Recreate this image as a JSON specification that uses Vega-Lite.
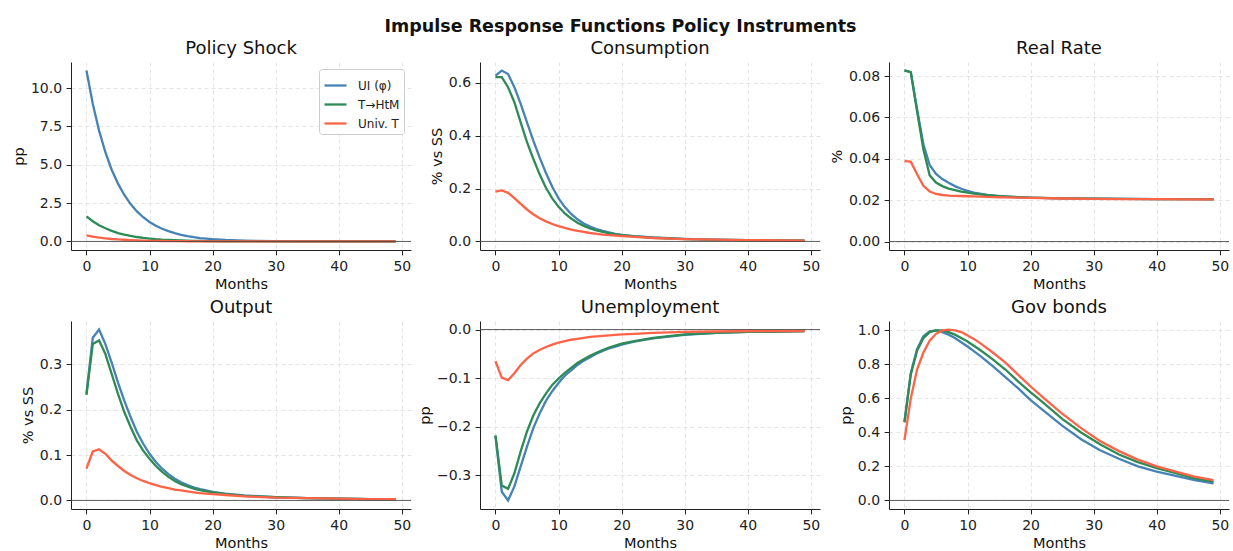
{
"$schema": "https://vega.github.io/schema/vega-lite/v6.json",
"padding": {"left": 11, "top": 17, "right": 5, "bottom": 5},
"title": {"text": "Impulse Response Functions Policy Instruments", "fontSize": 17.5, "fontWeight": "bold", "anchor": "middle", "offset": 5},
"data": {"values": [
{"p":"PS","m":0,"UI":11.15,"HtM":1.64,"Univ":0.39},
{"p":"PS","m":1,"UI":8.98,"HtM":1.32,"Univ":0.31},
{"p":"PS","m":2,"UI":7.23,"HtM":1.06,"Univ":0.25},
{"p":"PS","m":3,"UI":5.82,"HtM":0.86,"Univ":0.20},
{"p":"PS","m":4,"UI":4.68,"HtM":0.69,"Univ":0.16},
{"p":"PS","m":5,"UI":3.77,"HtM":0.55,"Univ":0.13},
{"p":"PS","m":6,"UI":3.03,"HtM":0.45,"Univ":0.11},
{"p":"PS","m":7,"UI":2.44,"HtM":0.36,"Univ":0.085},
{"p":"PS","m":8,"UI":1.96,"HtM":0.29,"Univ":0.069},
{"p":"PS","m":9,"UI":1.58,"HtM":0.23,"Univ":0.055},
{"p":"PS","m":10,"UI":1.27,"HtM":0.19,"Univ":0.044},
{"p":"PS","m":11,"UI":1.03,"HtM":0.15,"Univ":0.036},
{"p":"PS","m":12,"UI":0.83,"HtM":0.12,"Univ":0.029},
{"p":"PS","m":13,"UI":0.67,"HtM":0.10,"Univ":0.023},
{"p":"PS","m":14,"UI":0.54,"HtM":0.08,"Univ":0.019},
{"p":"PS","m":15,"UI":0.43,"HtM":0.064,"Univ":0.015},
{"p":"PS","m":16,"UI":0.35,"HtM":0.051,"Univ":0.012},
{"p":"PS","m":17,"UI":0.28,"HtM":0.041,"Univ":0.010},
{"p":"PS","m":18,"UI":0.22,"HtM":0.033,"Univ":0.008},
{"p":"PS","m":19,"UI":0.18,"HtM":0.026,"Univ":0.006},
{"p":"PS","m":20,"UI":0.145,"HtM":0.021,"Univ":0.005},
{"p":"PS","m":22,"UI":0.095,"HtM":0.014,"Univ":0.003},
{"p":"PS","m":25,"UI":0.049,"HtM":0.007,"Univ":0.002},
{"p":"PS","m":30,"UI":0.017,"HtM":0.0025,"Univ":0.001},
{"p":"PS","m":35,"UI":0.006,"HtM":0.001,"Univ":0.0},
{"p":"PS","m":40,"UI":0.002,"HtM":0.0003,"Univ":0.0},
{"p":"PS","m":45,"UI":0.001,"HtM":0.0001,"Univ":0.0},
{"p":"PS","m":49,"UI":0.0005,"HtM":0.0,"Univ":0.0},
{"p":"C","m":0,"UI":0.628,"HtM":0.622,"Univ":0.189},
{"p":"C","m":1,"UI":0.647,"HtM":0.622,"Univ":0.193},
{"p":"C","m":2,"UI":0.634,"HtM":0.584,"Univ":0.184},
{"p":"C","m":3,"UI":0.584,"HtM":0.527,"Univ":0.164},
{"p":"C","m":4,"UI":0.521,"HtM":0.451,"Univ":0.142},
{"p":"C","m":5,"UI":0.451,"HtM":0.376,"Univ":0.121},
{"p":"C","m":6,"UI":0.382,"HtM":0.313,"Univ":0.103},
{"p":"C","m":7,"UI":0.318,"HtM":0.254,"Univ":0.088},
{"p":"C","m":8,"UI":0.259,"HtM":0.203,"Univ":0.076},
{"p":"C","m":9,"UI":0.207,"HtM":0.163,"Univ":0.066},
{"p":"C","m":10,"UI":0.163,"HtM":0.131,"Univ":0.058},
{"p":"C","m":11,"UI":0.130,"HtM":0.106,"Univ":0.051},
{"p":"C","m":12,"UI":0.104,"HtM":0.087,"Univ":0.045},
{"p":"C","m":13,"UI":0.084,"HtM":0.071,"Univ":0.040},
{"p":"C","m":14,"UI":0.068,"HtM":0.059,"Univ":0.036},
{"p":"C","m":15,"UI":0.056,"HtM":0.049,"Univ":0.032},
{"p":"C","m":16,"UI":0.047,"HtM":0.042,"Univ":0.029},
{"p":"C","m":17,"UI":0.040,"HtM":0.036,"Univ":0.026},
{"p":"C","m":18,"UI":0.034,"HtM":0.031,"Univ":0.024},
{"p":"C","m":19,"UI":0.029,"HtM":0.027,"Univ":0.022},
{"p":"C","m":20,"UI":0.025,"HtM":0.024,"Univ":0.020},
{"p":"C","m":22,"UI":0.020,"HtM":0.019,"Univ":0.017},
{"p":"C","m":25,"UI":0.015,"HtM":0.014,"Univ":0.013},
{"p":"C","m":30,"UI":0.010,"HtM":0.009,"Univ":0.009},
{"p":"C","m":35,"UI":0.007,"HtM":0.006,"Univ":0.007},
{"p":"C","m":40,"UI":0.005,"HtM":0.005,"Univ":0.005},
{"p":"C","m":45,"UI":0.004,"HtM":0.004,"Univ":0.004},
{"p":"C","m":49,"UI":0.003,"HtM":0.003,"Univ":0.003},
{"p":"R","m":0,"UI":0.0827,"HtM":0.0827,"Univ":0.0389},
{"p":"R","m":1,"UI":0.0819,"HtM":0.0819,"Univ":0.0386},
{"p":"R","m":2,"UI":0.0640,"HtM":0.0630,"Univ":0.0325},
{"p":"R","m":3,"UI":0.0470,"HtM":0.0446,"Univ":0.0269},
{"p":"R","m":4,"UI":0.0370,"HtM":0.0320,"Univ":0.0242},
{"p":"R","m":5,"UI":0.0327,"HtM":0.0285,"Univ":0.0230},
{"p":"R","m":6,"UI":0.0302,"HtM":0.0268,"Univ":0.0225},
{"p":"R","m":7,"UI":0.0284,"HtM":0.0256,"Univ":0.0222},
{"p":"R","m":8,"UI":0.0268,"HtM":0.0248,"Univ":0.0221},
{"p":"R","m":9,"UI":0.0255,"HtM":0.0241,"Univ":0.0220},
{"p":"R","m":10,"UI":0.0245,"HtM":0.0236,"Univ":0.0219},
{"p":"R","m":11,"UI":0.0237,"HtM":0.0232,"Univ":0.0218},
{"p":"R","m":12,"UI":0.0231,"HtM":0.0228,"Univ":0.0217},
{"p":"R","m":13,"UI":0.0226,"HtM":0.0225,"Univ":0.0216},
{"p":"R","m":14,"UI":0.0223,"HtM":0.0222,"Univ":0.0215},
{"p":"R","m":15,"UI":0.0220,"HtM":0.0219,"Univ":0.0214},
{"p":"R","m":16,"UI":0.0218,"HtM":0.0217,"Univ":0.0213},
{"p":"R","m":18,"UI":0.0215,"HtM":0.0214,"Univ":0.0212},
{"p":"R","m":20,"UI":0.0212,"HtM":0.0212,"Univ":0.0211},
{"p":"R","m":25,"UI":0.0209,"HtM":0.0209,"Univ":0.0208},
{"p":"R","m":30,"UI":0.0207,"HtM":0.0207,"Univ":0.0206},
{"p":"R","m":35,"UI":0.0206,"HtM":0.0206,"Univ":0.0205},
{"p":"R","m":40,"UI":0.0205,"HtM":0.0205,"Univ":0.0205},
{"p":"R","m":45,"UI":0.0205,"HtM":0.0205,"Univ":0.0204},
{"p":"R","m":49,"UI":0.0205,"HtM":0.0204,"Univ":0.0204},
{"p":"O","m":0,"UI":0.235,"HtM":0.233,"Univ":0.070},
{"p":"O","m":1,"UI":0.359,"HtM":0.345,"Univ":0.108},
{"p":"O","m":2,"UI":0.377,"HtM":0.353,"Univ":0.113},
{"p":"O","m":3,"UI":0.345,"HtM":0.323,"Univ":0.103},
{"p":"O","m":4,"UI":0.304,"HtM":0.279,"Univ":0.088},
{"p":"O","m":5,"UI":0.260,"HtM":0.235,"Univ":0.076},
{"p":"O","m":6,"UI":0.220,"HtM":0.195,"Univ":0.065},
{"p":"O","m":7,"UI":0.184,"HtM":0.162,"Univ":0.056},
{"p":"O","m":8,"UI":0.151,"HtM":0.132,"Univ":0.049},
{"p":"O","m":9,"UI":0.125,"HtM":0.110,"Univ":0.043},
{"p":"O","m":10,"UI":0.103,"HtM":0.092,"Univ":0.038},
{"p":"O","m":11,"UI":0.085,"HtM":0.076,"Univ":0.034},
{"p":"O","m":12,"UI":0.070,"HtM":0.063,"Univ":0.030},
{"p":"O","m":13,"UI":0.058,"HtM":0.052,"Univ":0.027},
{"p":"O","m":14,"UI":0.048,"HtM":0.043,"Univ":0.024},
{"p":"O","m":15,"UI":0.040,"HtM":0.036,"Univ":0.022},
{"p":"O","m":16,"UI":0.034,"HtM":0.031,"Univ":0.020},
{"p":"O","m":17,"UI":0.029,"HtM":0.026,"Univ":0.018},
{"p":"O","m":18,"UI":0.025,"HtM":0.023,"Univ":0.016},
{"p":"O","m":19,"UI":0.022,"HtM":0.020,"Univ":0.015},
{"p":"O","m":20,"UI":0.019,"HtM":0.018,"Univ":0.014},
{"p":"O","m":22,"UI":0.015,"HtM":0.014,"Univ":0.012},
{"p":"O","m":25,"UI":0.011,"HtM":0.010,"Univ":0.009},
{"p":"O","m":30,"UI":0.007,"HtM":0.007,"Univ":0.006},
{"p":"O","m":35,"UI":0.005,"HtM":0.005,"Univ":0.005},
{"p":"O","m":40,"UI":0.004,"HtM":0.004,"Univ":0.004},
{"p":"O","m":45,"UI":0.003,"HtM":0.003,"Univ":0.003},
{"p":"O","m":49,"UI":0.003,"HtM":0.003,"Univ":0.003},
{"p":"U","m":0,"UI":-0.219,"HtM":-0.218,"Univ":-0.065},
{"p":"U","m":1,"UI":-0.334,"HtM":-0.321,"Univ":-0.099},
{"p":"U","m":2,"UI":-0.352,"HtM":-0.328,"Univ":-0.104},
{"p":"U","m":3,"UI":-0.323,"HtM":-0.296,"Univ":-0.090},
{"p":"U","m":4,"UI":-0.282,"HtM":-0.251,"Univ":-0.073},
{"p":"U","m":5,"UI":-0.241,"HtM":-0.210,"Univ":-0.060},
{"p":"U","m":6,"UI":-0.203,"HtM":-0.177,"Univ":-0.049},
{"p":"U","m":7,"UI":-0.173,"HtM":-0.152,"Univ":-0.042},
{"p":"U","m":8,"UI":-0.147,"HtM":-0.132,"Univ":-0.036},
{"p":"U","m":9,"UI":-0.127,"HtM":-0.114,"Univ":-0.031},
{"p":"U","m":10,"UI":-0.110,"HtM":-0.101,"Univ":-0.027},
{"p":"U","m":11,"UI":-0.095,"HtM":-0.089,"Univ":-0.024},
{"p":"U","m":12,"UI":-0.084,"HtM":-0.079,"Univ":-0.021},
{"p":"U","m":13,"UI":-0.073,"HtM":-0.069,"Univ":-0.019},
{"p":"U","m":14,"UI":-0.064,"HtM":-0.061,"Univ":-0.017},
{"p":"U","m":15,"UI":-0.057,"HtM":-0.054,"Univ":-0.015},
{"p":"U","m":16,"UI":-0.050,"HtM":-0.048,"Univ":-0.014},
{"p":"U","m":17,"UI":-0.044,"HtM":-0.042,"Univ":-0.013},
{"p":"U","m":18,"UI":-0.039,"HtM":-0.037,"Univ":-0.012},
{"p":"U","m":19,"UI":-0.035,"HtM":-0.033,"Univ":-0.011},
{"p":"U","m":20,"UI":-0.031,"HtM":-0.029,"Univ":-0.010},
{"p":"U","m":22,"UI":-0.025,"HtM":-0.024,"Univ":-0.009},
{"p":"U","m":25,"UI":-0.018,"HtM":-0.017,"Univ":-0.007},
{"p":"U","m":30,"UI":-0.011,"HtM":-0.010,"Univ":-0.005},
{"p":"U","m":35,"UI":-0.007,"HtM":-0.007,"Univ":-0.004},
{"p":"U","m":40,"UI":-0.005,"HtM":-0.005,"Univ":-0.003},
{"p":"U","m":45,"UI":-0.004,"HtM":-0.004,"Univ":-0.003},
{"p":"U","m":49,"UI":-0.003,"HtM":-0.003,"Univ":-0.003},
{"p":"G","m":0,"UI":0.46,"HtM":0.46,"Univ":0.355},
{"p":"G","m":1,"UI":0.75,"HtM":0.74,"Univ":0.60},
{"p":"G","m":2,"UI":0.89,"HtM":0.88,"Univ":0.77},
{"p":"G","m":3,"UI":0.965,"HtM":0.955,"Univ":0.87},
{"p":"G","m":4,"UI":0.995,"HtM":0.99,"Univ":0.94},
{"p":"G","m":5,"UI":1.0,"HtM":1.0,"Univ":0.98},
{"p":"G","m":6,"UI":0.99,"HtM":1.0,"Univ":1.0},
{"p":"G","m":7,"UI":0.975,"HtM":0.99,"Univ":1.005},
{"p":"G","m":8,"UI":0.955,"HtM":0.975,"Univ":1.0},
{"p":"G","m":9,"UI":0.93,"HtM":0.955,"Univ":0.99},
{"p":"G","m":10,"UI":0.905,"HtM":0.935,"Univ":0.97},
{"p":"G","m":11,"UI":0.878,"HtM":0.91,"Univ":0.95},
{"p":"G","m":12,"UI":0.85,"HtM":0.885,"Univ":0.925},
{"p":"G","m":14,"UI":0.79,"HtM":0.83,"Univ":0.87},
{"p":"G","m":16,"UI":0.725,"HtM":0.77,"Univ":0.81},
{"p":"G","m":18,"UI":0.66,"HtM":0.70,"Univ":0.74},
{"p":"G","m":20,"UI":0.59,"HtM":0.635,"Univ":0.67},
{"p":"G","m":22,"UI":0.53,"HtM":0.575,"Univ":0.605},
{"p":"G","m":25,"UI":0.44,"HtM":0.48,"Univ":0.51},
{"p":"G","m":28,"UI":0.36,"HtM":0.40,"Univ":0.425},
{"p":"G","m":31,"UI":0.295,"HtM":0.33,"Univ":0.35},
{"p":"G","m":34,"UI":0.245,"HtM":0.27,"Univ":0.29},
{"p":"G","m":37,"UI":0.20,"HtM":0.225,"Univ":0.24},
{"p":"G","m":40,"UI":0.17,"HtM":0.19,"Univ":0.20},
{"p":"G","m":43,"UI":0.145,"HtM":0.16,"Univ":0.17},
{"p":"G","m":46,"UI":0.12,"HtM":0.13,"Univ":0.14},
{"p":"G","m":49,"UI":0.10,"HtM":0.11,"Univ":0.12}
]},
"columns": 3,
"spacing": {"column": 69, "row": 71},
"bounds": "flush",
"resolve": {"legend": {"color": "independent"}},
"concat": [
{"title": "Policy Shock", "width": 340, "height": 188,
 "transform": [{"filter": "datum.p == 'PS'"}, {"fold": ["UI", "HtM", "Univ"], "as": ["s", "v"]}],
 "layer": [
  {"mark": {"type": "line", "strokeWidth": 2.3}, "encoding": {
   "x": {"field": "m", "type": "quantitative", "scale": {"domain": [-2.45, 51.45], "nice": false, "zero": false}, "axis": {"values": [0, 10, 20, 30, 40, 50], "tickCount": 10, "title": "Months"}},
   "y": {"field": "v", "type": "quantitative", "scale": {"domain": [-0.5575, 11.7075], "nice": false, "zero": false}, "axis": {"values": [0, 2.5, 5, 7.5, 10], "tickCount": 10, "format": ".1f", "title": "pp"}},
   "color": {"field": "s", "type": "nominal", "scale": {"domain": ["UI", "HtM", "Univ"], "range": ["#4682B4", "#2E8B57", "#FF6347"]},
     "legend": {"orient": "top-right", "offset": 7, "title": null, "symbolType": "stroke", "symbolStrokeWidth": 2.3, "symbolSize": 484, "labelFontSize": 12, "rowPadding": -5, "padding": 4, "fillColor": "white", "strokeColor": "#cccccc", "cornerRadius": 3, "labelOffset": 10, "labelColor": "#222",
       "labelExpr": "datum.label == 'UI' ? 'UI (φ)' : datum.label == 'HtM' ? 'T→HtM' : 'Univ. T'"}}
  }},
  {"transform": [{"filter": "datum.m == 0 && datum.s == 'UI'"}], "mark": {"type": "rule", "color": "#444", "strokeWidth": 1, "opacity": 0.85}, "encoding": {"y": {"datum": 0}}}
 ]},
{"title": "Consumption", "width": 340, "height": 188,
 "transform": [{"filter": "datum.p == 'C'"}, {"fold": ["UI", "HtM", "Univ"], "as": ["s", "v"]}],
 "layer": [
  {"mark": {"type": "line", "strokeWidth": 2.3}, "encoding": {
   "x": {"field": "m", "type": "quantitative", "scale": {"domain": [-2.45, 51.45], "nice": false, "zero": false}, "axis": {"values": [0, 10, 20, 30, 40, 50], "tickCount": 10, "title": "Months"}},
   "y": {"field": "v", "type": "quantitative", "scale": {"domain": [-0.0324, 0.6794], "nice": false, "zero": false}, "axis": {"values": [0, 0.2, 0.4, 0.6], "tickCount": 10, "format": ".1f", "title": "% vs SS"}},
   "color": {"field": "s", "type": "nominal", "scale": {"domain": ["UI", "HtM", "Univ"], "range": ["#4682B4", "#2E8B57", "#FF6347"]}, "legend": null}
  }},
  {"transform": [{"filter": "datum.m == 0 && datum.s == 'UI'"}], "mark": {"type": "rule", "color": "#444", "strokeWidth": 1, "opacity": 0.85}, "encoding": {"y": {"datum": 0}}}
 ]},
{"title": "Real Rate", "width": 340, "height": 188,
 "transform": [{"filter": "datum.p == 'R'"}, {"fold": ["UI", "HtM", "Univ"], "as": ["s", "v"]}],
 "layer": [
  {"mark": {"type": "line", "strokeWidth": 2.3}, "encoding": {
   "x": {"field": "m", "type": "quantitative", "scale": {"domain": [-2.45, 51.45], "nice": false, "zero": false}, "axis": {"values": [0, 10, 20, 30, 40, 50], "tickCount": 10, "title": "Months"}},
   "y": {"field": "v", "type": "quantitative", "scale": {"domain": [-0.0041, 0.0868], "nice": false, "zero": false}, "axis": {"values": [0, 0.02, 0.04, 0.06, 0.08], "tickCount": 10, "format": ".2f", "title": "%"}},
   "color": {"field": "s", "type": "nominal", "scale": {"domain": ["UI", "HtM", "Univ"], "range": ["#4682B4", "#2E8B57", "#FF6347"]}, "legend": null}
  }},
  {"transform": [{"filter": "datum.m == 0 && datum.s == 'UI'"}], "mark": {"type": "rule", "color": "#444", "strokeWidth": 1, "opacity": 0.85}, "encoding": {"y": {"datum": 0}}}
 ]},
{"title": "Output", "width": 340, "height": 188,
 "transform": [{"filter": "datum.p == 'O'"}, {"fold": ["UI", "HtM", "Univ"], "as": ["s", "v"]}],
 "layer": [
  {"mark": {"type": "line", "strokeWidth": 2.3}, "encoding": {
   "x": {"field": "m", "type": "quantitative", "scale": {"domain": [-2.45, 51.45], "nice": false, "zero": false}, "axis": {"values": [0, 10, 20, 30, 40, 50], "tickCount": 10, "title": "Months"}},
   "y": {"field": "v", "type": "quantitative", "scale": {"domain": [-0.0189, 0.3959], "nice": false, "zero": false}, "axis": {"values": [0, 0.1, 0.2, 0.3], "tickCount": 10, "format": ".1f", "title": "% vs SS"}},
   "color": {"field": "s", "type": "nominal", "scale": {"domain": ["UI", "HtM", "Univ"], "range": ["#4682B4", "#2E8B57", "#FF6347"]}, "legend": null}
  }},
  {"transform": [{"filter": "datum.m == 0 && datum.s == 'UI'"}], "mark": {"type": "rule", "color": "#444", "strokeWidth": 1, "opacity": 0.85}, "encoding": {"y": {"datum": 0}}}
 ]},
{"title": "Unemployment", "width": 340, "height": 188,
 "transform": [{"filter": "datum.p == 'U'"}, {"fold": ["UI", "HtM", "Univ"], "as": ["s", "v"]}],
 "layer": [
  {"mark": {"type": "line", "strokeWidth": 2.3}, "encoding": {
   "x": {"field": "m", "type": "quantitative", "scale": {"domain": [-2.45, 51.45], "nice": false, "zero": false}, "axis": {"values": [0, 10, 20, 30, 40, 50], "tickCount": 10, "title": "Months"}},
   "y": {"field": "v", "type": "quantitative", "scale": {"domain": [-0.3696, 0.0176], "nice": false, "zero": false}, "axis": {"values": [-0.3, -0.2, -0.1, 0], "tickCount": 10, "format": ".1f", "title": "pp"}},
   "color": {"field": "s", "type": "nominal", "scale": {"domain": ["UI", "HtM", "Univ"], "range": ["#4682B4", "#2E8B57", "#FF6347"]}, "legend": null}
  }},
  {"transform": [{"filter": "datum.m == 0 && datum.s == 'UI'"}], "mark": {"type": "rule", "color": "#444", "strokeWidth": 1, "opacity": 0.85}, "encoding": {"y": {"datum": 0}}}
 ]},
{"title": "Gov bonds", "width": 340, "height": 188,
 "transform": [{"filter": "datum.p == 'G'"}, {"fold": ["UI", "HtM", "Univ"], "as": ["s", "v"]}],
 "layer": [
  {"mark": {"type": "line", "strokeWidth": 2.3}, "encoding": {
   "x": {"field": "m", "type": "quantitative", "scale": {"domain": [-2.45, 51.45], "nice": false, "zero": false}, "axis": {"values": [0, 10, 20, 30, 40, 50], "tickCount": 10, "title": "Months"}},
   "y": {"field": "v", "type": "quantitative", "scale": {"domain": [-0.0503, 1.0553], "nice": false, "zero": false}, "axis": {"values": [0, 0.2, 0.4, 0.6, 0.8, 1.0], "tickCount": 10, "format": ".1f", "title": "pp"}},
   "color": {"field": "s", "type": "nominal", "scale": {"domain": ["UI", "HtM", "Univ"], "range": ["#4682B4", "#2E8B57", "#FF6347"]}, "legend": null}
  }},
  {"transform": [{"filter": "datum.m == 0 && datum.s == 'UI'"}], "mark": {"type": "rule", "color": "#444", "strokeWidth": 1, "opacity": 0.85}, "encoding": {"y": {"datum": 0}}}
 ]}
],
"config": {
 "font": "DejaVu Sans",
 "view": {"stroke": null},
 "background": "white",
 "title": {"fontSize": 18, "fontWeight": "normal", "color": "#111", "offset": 4},
 "axis": {"domainColor": "#222", "domainWidth": 1, "tickColor": "#222", "tickSize": 4.9, "labelColor": "#222", "labelFontSize": 14, "labelPadding": 4.5, "titleFontSize": 14.5, "titleFontWeight": "normal", "titleColor": "#111", "titlePadding": 4, "gridColor": "#dddddd", "gridDash": [4, 3], "gridWidth": 0.8, "labelFlush": false, "labelOverlap": false}
}
}
